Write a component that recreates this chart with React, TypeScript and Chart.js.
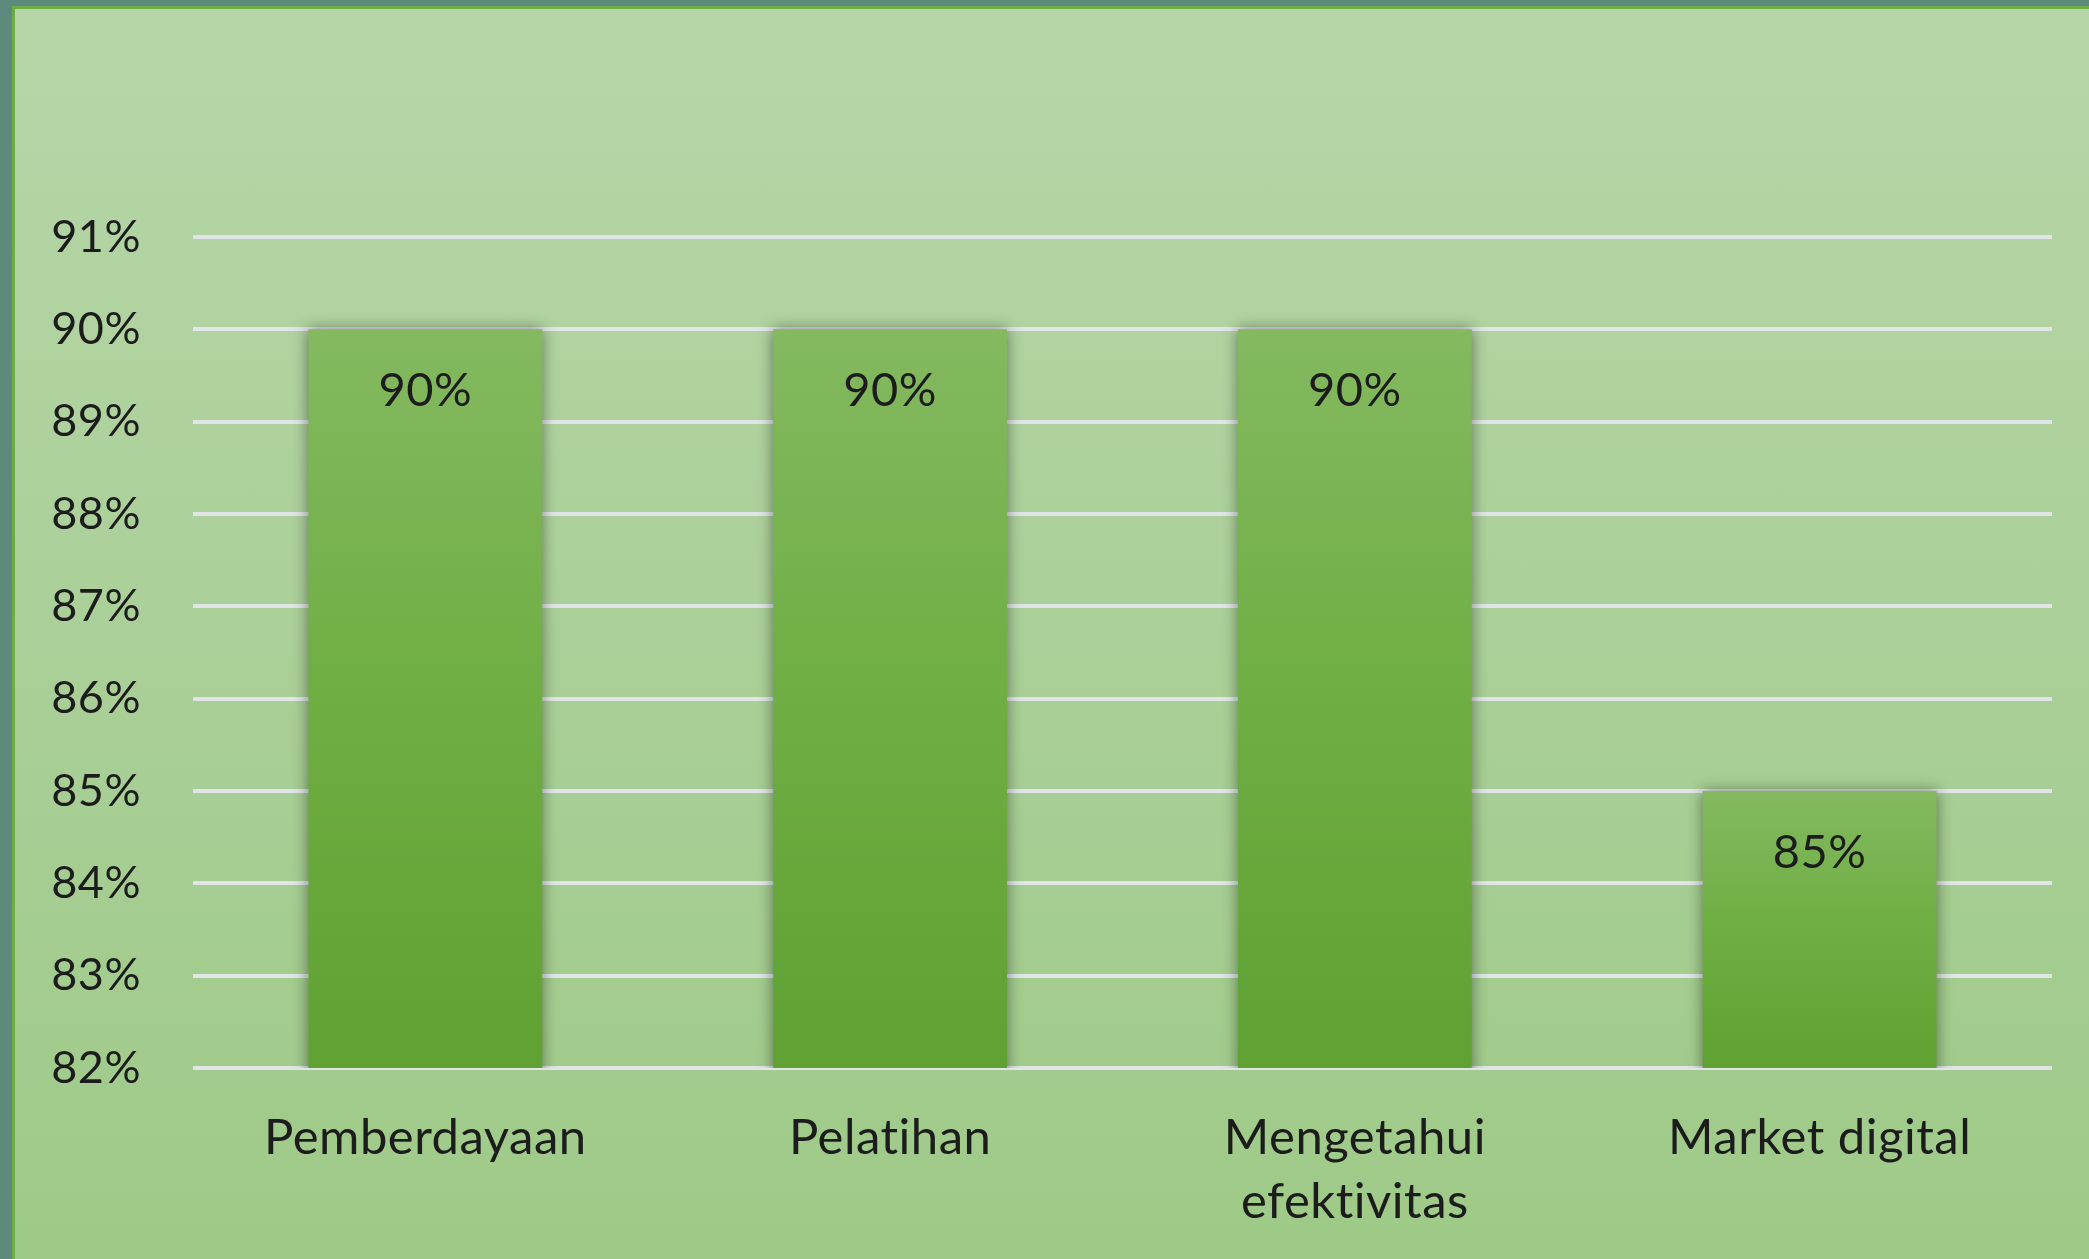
import React, { useEffect, useRef } from 'react';
import { Chart, registerables } from 'chart.js';

Chart.register(...registerables);

// ---- data ----
const categories: (string | string[])[] = ['Pemberdayaan', 'Pelatihan', ['Mengetahui', 'efektivitas'], 'Market digital'];
const values: number[] = [90, 90, 90, 85];
const yMin = 82;
const yMax = 91;
const yStep = 1;

// ---- layout / style ----
const W = 2074;
const H = 1250;
const FONT = 'Lato, "Open Sans", sans-serif';
const X_FONT_SIZE = 49;
const Y_FONT_SIZE = 45;
const LABEL_FONT_SIZE = 47;
const TEXT = '#1c1c1c';

export default function App() {
  const ref = useRef<HTMLCanvasElement>(null);

  useEffect(() => {
    if (!ref.current) return;

    const shadowAndLabels = {
      id: 'shadowAndLabels',
      beforeDraw(chart: any) {
        try {
          (chart.ctx as any).letterSpacing = '0.5px';
        } catch (e) {
          /* ignore */
        }
      },
      beforeDatasetsDraw(chart: any) {
        const c = chart.ctx;
        c.save();
        c.shadowColor = 'rgba(0,0,0,0.45)';
        c.shadowBlur = 14;
        c.shadowOffsetX = 0;
        c.shadowOffsetY = 0;
      },
      afterDatasetsDraw(chart: any) {
        const c = chart.ctx;
        c.restore();
        const meta = chart.getDatasetMeta(0);
        c.save();
        c.font = `${LABEL_FONT_SIZE}px ${FONT}`;
        c.fillStyle = TEXT;
        c.textAlign = 'center';
        c.textBaseline = 'middle';
        meta.data.forEach((bar: any, i: number) => {
          c.fillText(`${values[i]}%`, bar.x, bar.y + 62);
        });
        c.restore();
      },
    };

    const chart = new Chart(ref.current, {
      type: 'bar',
      data: {
        labels: categories,
        datasets: [
          {
            data: values,
            borderWidth: 0,
            barPercentage: 0.503,
            categoryPercentage: 1,
            backgroundColor: (ctx: any) => {
              const ch = ctx.chart;
              const { chartArea, scales } = ch;
              if (!chartArea || ctx.type !== 'data' || !scales.y) return '#6daf42';
              const top = scales.y.getPixelForValue(ctx.raw);
              const bottom = scales.y.getPixelForValue(yMin);
              const g = ch.ctx.createLinearGradient(0, top, 0, bottom);
              g.addColorStop(0, '#84b960');
              g.addColorStop(0.5, '#6eae42');
              g.addColorStop(1, '#60a133');
              return g;
            },
          },
        ],
      },
      options: {
        responsive: false,
        animation: false,
        layout: { padding: { left: 0, right: 37, top: 228, bottom: 0 } },
        plugins: {
          legend: { display: false },
          tooltip: { enabled: false },
          title: { display: false },
        },
        scales: {
          x: {
            grid: { display: false, drawTicks: false },
            border: { display: false },
            ticks: {
              color: TEXT,
              font: { family: FONT, size: X_FONT_SIZE, lineHeight: 1.29 },
              padding: 39,
              maxRotation: 0,
              autoSkip: false,
            },
            afterFit(scale: any) {
              scale.height = 191;
            },
          },
          y: {
            min: yMin,
            max: yMax,
            grid: { color: '#e2e5e8', lineWidth: 4, drawTicks: false },
            border: { display: false },
            ticks: {
              stepSize: yStep,
              color: TEXT,
              font: { family: FONT, size: Y_FONT_SIZE },
              padding: 52,
              callback: (v: any) => `${Math.round(Number(v))}%`,
            },
            afterFit(scale: any) {
              scale.width = 178;
            },
          },
        },
      },
      plugins: [shadowAndLabels],
    });

    return () => chart.destroy();
  }, []);

  return (
    <div
      style={{
        position: 'fixed',
        left: 0,
        top: 0,
        width: 2089,
        height: 1259,
        background: '#5e8a7d',
        overflow: 'hidden',
      }}
    >
      <div
        style={{
          position: 'absolute',
          left: 12,
          top: 6,
          right: 0,
          bottom: 0,
          borderLeft: '3px solid #6cad46',
          borderTop: '3px solid #6cad46',
          background: 'linear-gradient(to bottom, #b6d6a8 0%, #a9cf97 55%, #9eca87 100%)',
        }}
      >
        <canvas ref={ref} width={W} height={H} style={{ display: 'block', width: W, height: H }} />
      </div>
    </div>
  );
}
